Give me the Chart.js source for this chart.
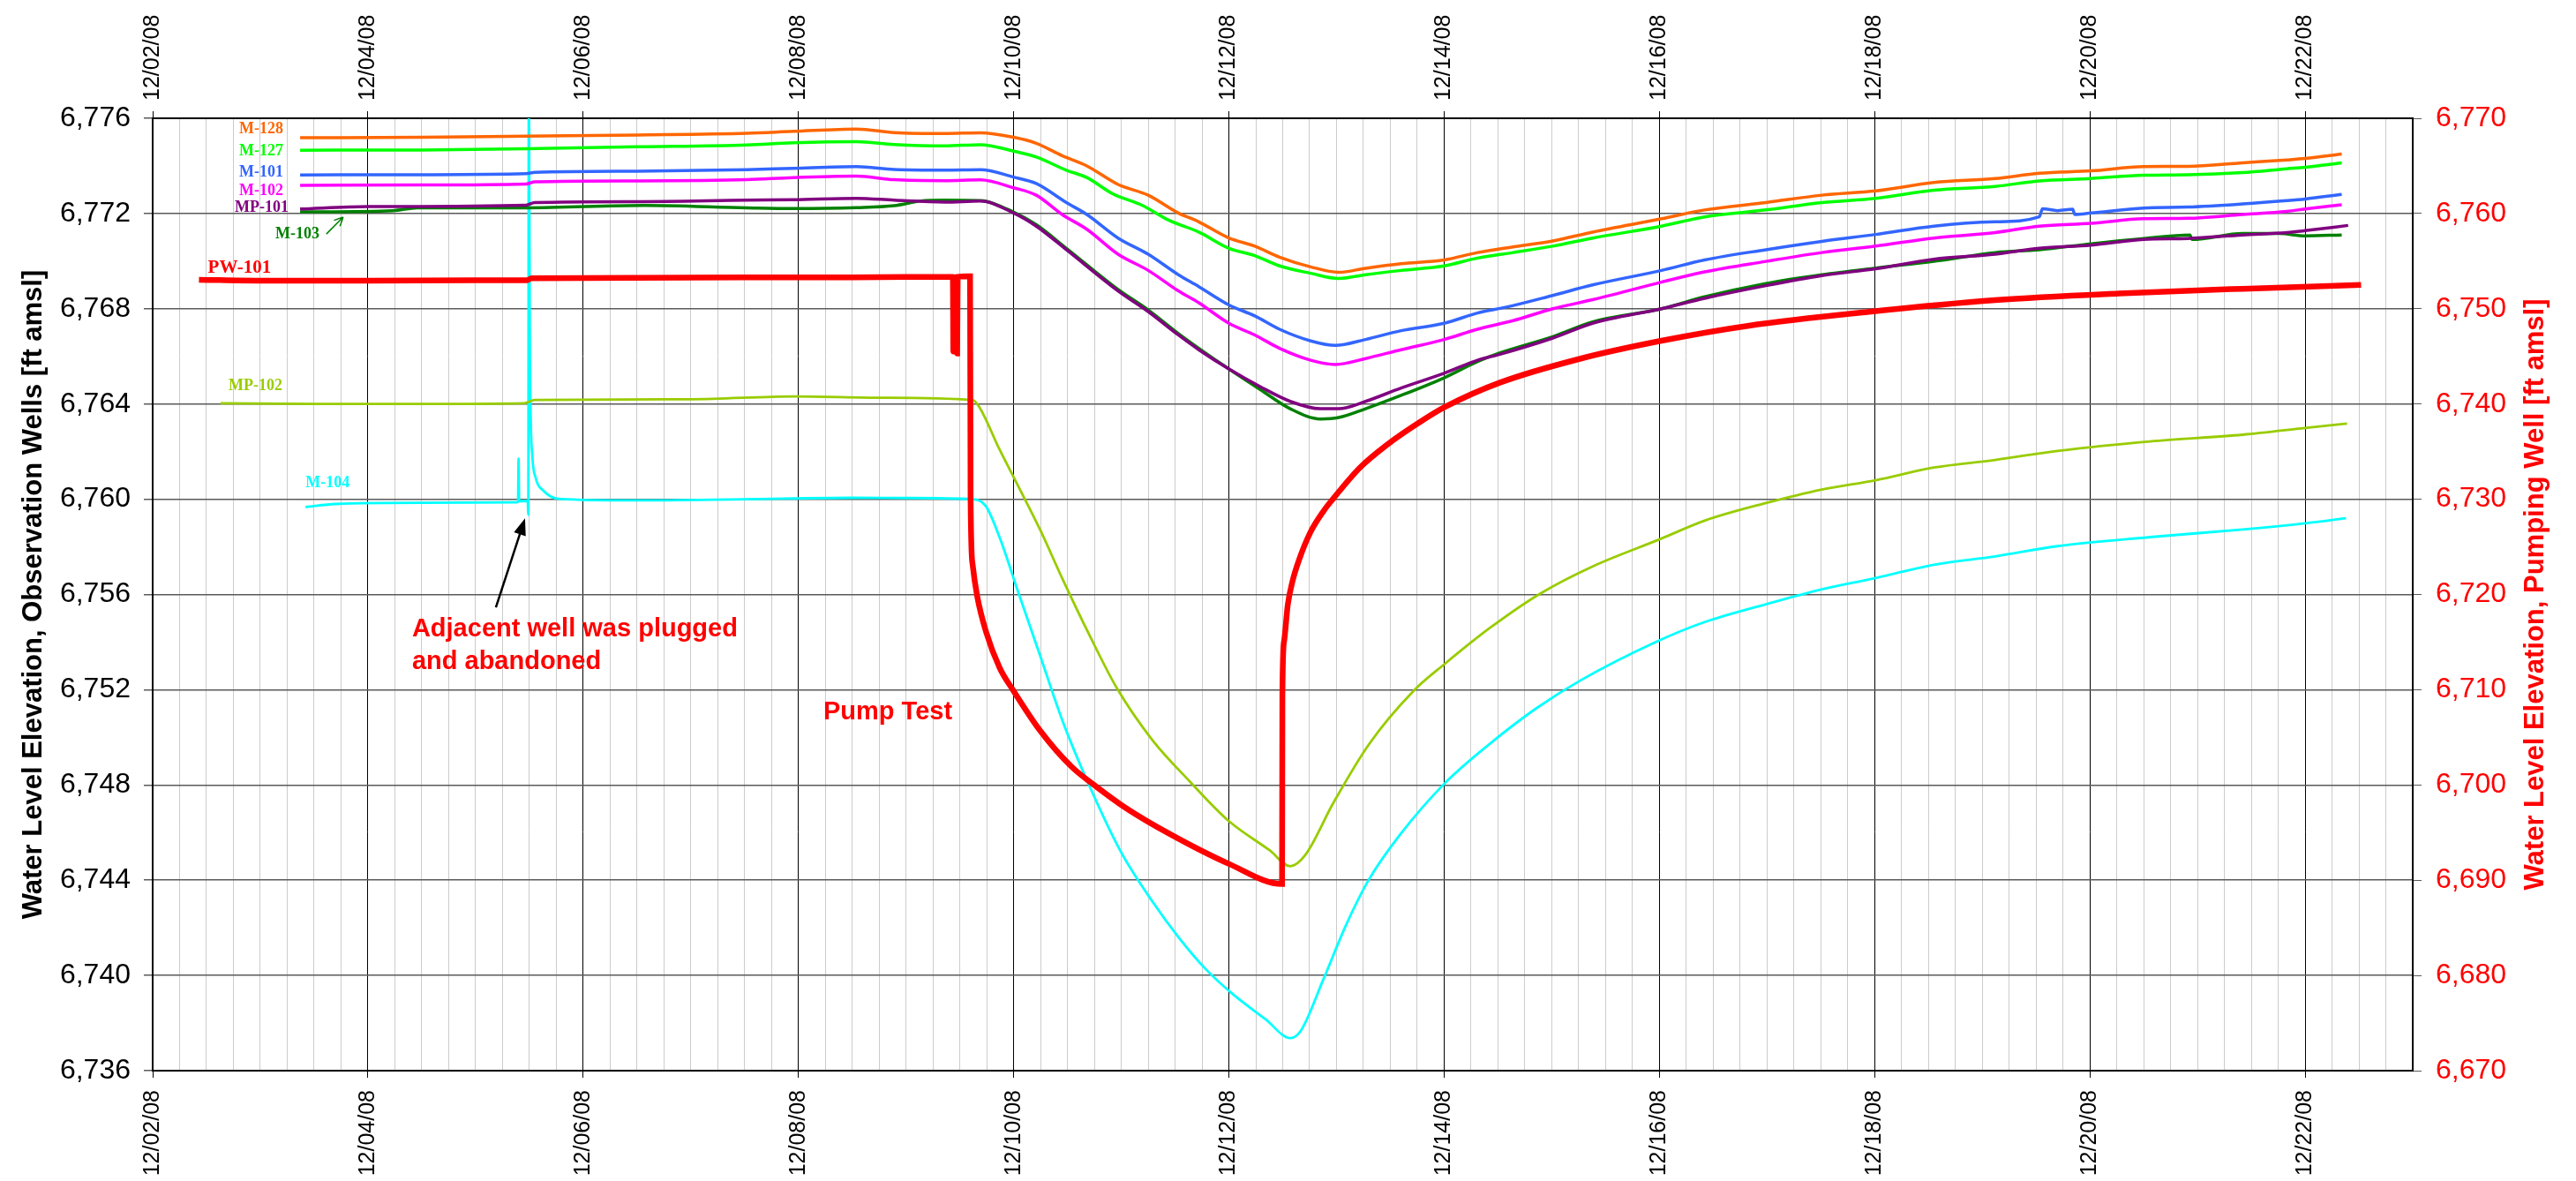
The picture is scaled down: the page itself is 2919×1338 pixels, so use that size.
<!DOCTYPE html>
<html>
<head>
<meta charset="utf-8">
<script src="https://cdn.jsdelivr.net/npm/chart.js@4.4.0/dist/chart.umd.min.js"></script>
<style>
  html, body { margin: 0; padding: 0; background: #fff; }
  #wrap { width: 2919px; height: 1338px; }
</style>
</head>
<body>
<div id="wrap"><canvas id="chart" width="2919" height="1338"></canvas></div>
<script>
// x = days after 12/02/08 00:00, y = water level [ft amsl]
const xMin = 0, xMax = 21;
const leftTicks = [6736, 6776, 4];   // min, max, step (observation wells)
const rightTicks = [6670, 6770, 10]; // min, max, step (pumping well)

const pw101T = [0.43, 1.0, 2.0, 3.0, 3.48, 3.52, 4.5, 5.5, 6.5, 7.0, 7.435, 7.44, 7.46, 7.475, 7.48, 7.57, 7.595, 7.6, 7.618, 7.66, 7.743, 7.87, 7.995, 8.246, 8.539, 8.748, 9.04, 9.459, 10.003, 10.494, 10.497, 10.513, 10.547, 10.589, 10.651, 10.756, 10.882, 10.965, 11.216, 11.467, 11.802, 12.01, 12.52, 13.27, 14.02, 14.82, 15.97, 17.12, 18.27, 19.42, 20.52];
const pw101V = [6753.05, 6752.95, 6752.95, 6753.0, 6753.0, 6753.2, 6753.25, 6753.3, 6753.3, 6753.35, 6753.35, 6745.5, 6746.0, 6745.3, 6753.35, 6753.4, 6753.4, 6730.0, 6723.2, 6719.9, 6716.1, 6712.3, 6709.95, 6705.7, 6701.9, 6700.0, 6697.6, 6694.8, 6691.7, 6689.6, 6709.45, 6715.1, 6718.9, 6721.3, 6723.6, 6726.5, 6728.8, 6730.0, 6733.3, 6735.7, 6738.3, 6739.7, 6742.25, 6744.77, 6746.64, 6748.2, 6749.7, 6750.9, 6751.6, 6752.1, 6752.5];

const m128T = [1.37, 2.5, 3.47, 4.5, 5.52, 5.95, 6.54, 6.89, 7.36, 7.69, 8.0, 8.21, 8.45, 8.68, 8.97, 9.25, 9.53, 9.72, 10.0, 10.24, 10.47, 10.76, 11.02, 11.27, 11.6, 12.0, 12.31, 12.64, 13.01, 13.38, 14.02, 14.42, 14.99, 15.51, 16.01, 16.55, 17.12, 17.53, 18.01, 18.5, 18.91, 19.42, 19.83, 20.0, 20.34];
const m128V = [6775.18, 6775.2, 6775.25, 6775.3, 6775.37, 6775.45, 6775.55, 6775.4, 6775.36, 6775.39, 6775.2, 6774.95, 6774.43, 6774.0, 6773.22, 6772.77, 6772.02, 6771.65, 6770.97, 6770.63, 6770.17, 6769.76, 6769.53, 6769.7, 6769.89, 6770.05, 6770.36, 6770.6, 6770.85, 6771.22, 6771.78, 6772.15, 6772.46, 6772.77, 6772.95, 6773.3, 6773.47, 6773.69, 6773.79, 6773.97, 6773.98, 6774.13, 6774.25, 6774.31, 6774.5];

const m127T = [1.37, 2.5, 3.47, 4.5, 5.52, 5.95, 6.54, 6.89, 7.36, 7.69, 8.0, 8.21, 8.49, 8.68, 8.92, 9.2, 9.44, 9.72, 10.0, 10.24, 10.47, 10.76, 11.02, 11.27, 11.6, 12.0, 12.31, 12.64, 13.01, 13.38, 14.02, 14.42, 14.99, 15.51, 16.01, 16.55, 17.12, 17.53, 18.01, 18.5, 18.91, 19.42, 19.83, 20.0, 20.34];
const m127V = [6774.66, 6774.67, 6774.72, 6774.8, 6774.88, 6774.97, 6775.02, 6774.9, 6774.84, 6774.89, 6774.62, 6774.37, 6773.82, 6773.51, 6772.83, 6772.33, 6771.72, 6771.22, 6770.54, 6770.23, 6769.8, 6769.49, 6769.27, 6769.43, 6769.61, 6769.8, 6770.13, 6770.36, 6770.63, 6770.97, 6771.47, 6771.86, 6772.15, 6772.46, 6772.64, 6772.98, 6773.14, 6773.37, 6773.47, 6773.61, 6773.63, 6773.72, 6773.88, 6773.94, 6774.13];

const m101T = [1.37, 2.5, 3.47, 3.55, 4.5, 5.52, 5.95, 6.54, 6.89, 7.36, 7.69, 8.0, 8.21, 8.49, 8.68, 8.97, 9.25, 9.53, 9.72, 10.0, 10.24, 10.47, 10.76, 10.99, 11.27, 11.6, 12.0, 12.31, 12.58, 13.01, 13.38, 14.02, 14.42, 14.99, 15.51, 16.01, 16.55, 17.12, 17.53, 17.56, 17.7, 17.84, 17.86, 18.01, 18.5, 18.91, 19.42, 19.83, 20.0, 20.34];
const m101V = [6773.62, 6773.63, 6773.67, 6773.73, 6773.78, 6773.84, 6773.9, 6773.97, 6773.85, 6773.82, 6773.84, 6773.53, 6773.26, 6772.46, 6771.96, 6770.97, 6770.29, 6769.43, 6768.93, 6768.16, 6767.7, 6767.14, 6766.65, 6766.46, 6766.71, 6767.08, 6767.39, 6767.82, 6768.07, 6768.56, 6769.0, 6769.61, 6770.05, 6770.48, 6770.83, 6771.12, 6771.47, 6771.65, 6771.86, 6772.2, 6772.12, 6772.18, 6771.96, 6772.02, 6772.23, 6772.27, 6772.4, 6772.54, 6772.61, 6772.8];

const m102T = [1.37, 2.5, 3.47, 3.55, 4.5, 5.52, 5.95, 6.54, 6.89, 7.36, 7.69, 8.0, 8.21, 8.45, 8.68, 8.97, 9.25, 9.53, 9.72, 10.0, 10.24, 10.47, 10.76, 10.99, 11.27, 11.6, 12.0, 12.31, 12.64, 13.01, 13.38, 14.02, 14.42, 14.99, 15.51, 16.01, 16.55, 17.12, 17.53, 18.01, 18.5, 18.91, 19.42, 19.83, 20.0, 20.34];
const m102V = [6773.18, 6773.2, 6773.24, 6773.33, 6773.37, 6773.42, 6773.51, 6773.57, 6773.42, 6773.38, 6773.41, 6773.08, 6772.77, 6771.96, 6771.34, 6770.29, 6769.61, 6768.75, 6768.25, 6767.39, 6766.9, 6766.34, 6765.84, 6765.66, 6765.91, 6766.28, 6766.71, 6767.14, 6767.5, 6768.0, 6768.38, 6769.12, 6769.55, 6769.99, 6770.36, 6770.63, 6770.97, 6771.2, 6771.47, 6771.59, 6771.78, 6771.8, 6771.96, 6772.09, 6772.19, 6772.37];

const mp101T = [1.37, 2.0, 3.47, 3.55, 4.5, 5.52, 5.95, 6.54, 6.89, 7.36, 7.69, 8.0, 8.21, 8.49, 8.97, 9.25, 9.53, 9.72, 10.0, 10.29, 10.57, 10.85, 11.02, 11.27, 11.6, 12.0, 12.31, 12.52, 13.01, 13.38, 14.02, 14.42, 14.99, 15.51, 16.01, 16.55, 17.12, 17.53, 18.01, 18.5, 18.91, 19.42, 19.83, 20.0, 20.4];
const mp101V = [6772.19, 6772.29, 6772.35, 6772.46, 6772.5, 6772.56, 6772.58, 6772.64, 6772.56, 6772.48, 6772.52, 6772.02, 6771.47, 6770.48, 6768.75, 6767.88, 6766.9, 6766.28, 6765.47, 6764.73, 6764.11, 6763.8, 6763.8, 6764.11, 6764.67, 6765.29, 6765.84, 6766.09, 6766.77, 6767.39, 6768.0, 6768.44, 6768.97, 6769.39, 6769.68, 6770.08, 6770.29, 6770.54, 6770.67, 6770.91, 6770.95, 6771.1, 6771.2, 6771.28, 6771.5];

const m103T = [1.37, 2.23, 2.46, 3.47, 4.57, 5.52, 5.95, 6.54, 6.89, 7.13, 7.36, 7.69, 8.0, 8.21, 8.49, 8.97, 9.25, 9.53, 9.72, 10.0, 10.29, 10.57, 10.85, 11.02, 11.27, 11.6, 12.0, 12.31, 12.52, 13.01, 13.38, 14.02, 14.42, 14.99, 15.51, 16.01, 16.55, 17.12, 17.53, 18.01, 18.5, 18.93, 18.95, 19.42, 19.76, 20.0, 20.34];
const m103V = [6772.07, 6772.12, 6772.24, 6772.24, 6772.34, 6772.24, 6772.21, 6772.25, 6772.33, 6772.52, 6772.56, 6772.54, 6772.06, 6771.53, 6770.54, 6768.81, 6767.95, 6766.96, 6766.34, 6765.47, 6764.61, 6763.8, 6763.37, 6763.43, 6763.8, 6764.36, 6765.1, 6765.78, 6766.15, 6766.83, 6767.45, 6768.0, 6768.5, 6769.06, 6769.43, 6769.71, 6769.99, 6770.36, 6770.48, 6770.73, 6770.95, 6771.1, 6770.91, 6771.16, 6771.16, 6771.06, 6771.1];

const mp102T = [0.63, 1.5, 2.5, 3.45, 3.55, 5.0, 5.96, 6.78, 7.62, 7.68, 7.87, 8.04, 8.25, 8.45, 8.71, 8.96, 9.29, 9.63, 10.0, 10.38, 10.57, 10.71, 10.97, 11.3, 11.72, 12.01, 12.43, 12.89, 13.38, 14.02, 14.42, 14.99, 15.51, 16.01, 16.55, 17.12, 17.7, 18.56, 19.42, 20.0, 20.39];
const mp102V = [6764.03, 6764.0, 6764.0, 6764.03, 6764.17, 6764.2, 6764.32, 6764.26, 6764.16, 6763.88, 6762.08, 6760.57, 6758.68, 6756.69, 6754.24, 6752.06, 6749.88, 6748.18, 6746.48, 6745.25, 6744.59, 6745.06, 6747.24, 6749.7, 6751.97, 6753.1, 6754.61, 6756.03, 6757.18, 6758.35, 6759.1, 6759.84, 6760.41, 6760.8, 6761.33, 6761.65, 6762.03, 6762.43, 6762.71, 6762.99, 6763.18];

const m104T = [1.42, 1.7, 2.5, 3.38, 3.395, 3.4, 3.405, 3.485, 3.49, 3.495, 3.505, 3.528, 3.556, 3.638, 3.775, 4.5, 5.5, 6.5, 7.0, 7.62, 7.74, 7.87, 8.04, 8.25, 8.45, 8.71, 9.0, 9.29, 9.54, 9.79, 10.04, 10.34, 10.57, 10.67, 10.88, 11.09, 11.3, 11.59, 12.01, 12.43, 12.85, 13.27, 13.96, 14.42, 14.99, 15.51, 16.01, 16.55, 17.12, 17.7, 18.56, 19.42, 20.0, 20.38];
const m104V = [6759.67, 6759.8, 6759.85, 6759.87, 6759.9, 6761.7, 6759.92, 6759.92, 6759.34, 6778.0, 6766.0, 6761.8, 6760.95, 6760.33, 6760.02, 6759.95, 6760.0, 6760.06, 6760.05, 6760.0, 6759.72, 6758.39, 6756.13, 6753.38, 6750.74, 6747.9, 6745.16, 6743.1, 6741.56, 6740.24, 6739.2, 6738.16, 6737.37, 6737.69, 6739.86, 6742.13, 6744.02, 6745.91, 6748.09, 6749.75, 6751.2, 6752.4, 6753.99, 6754.84, 6755.59, 6756.22, 6756.69, 6757.25, 6757.6, 6758.03, 6758.41, 6758.73, 6758.99, 6759.2];

function series(label, t, v, color, width, axis) {
  return {
    label: label,
    data: t.map((d, i) => ({ x: d, y: v[i] })),
    borderColor: color,
    backgroundColor: color,
    borderWidth: width,
    pointRadius: 0,
    fill: false,
    cubicInterpolationMode: 'monotone',
    yAxisID: axis
  };
}

// index 0 is drawn last (on top)
const datasets = [
  series('PW-101', pw101T, pw101V, '#ff0000', 6.5, 'y2'),
  series('M-128', m128T, m128V, '#ff6600', 3.5, 'y'),
  series('M-127', m127T, m127V, '#00ff00', 3.5, 'y'),
  series('M-101', m101T, m101V, '#3366ff', 3.5, 'y'),
  series('M-102', m102T, m102V, '#ff00ff', 3.5, 'y'),
  series('MP-101', mp101T, mp101V, '#800080', 3.5, 'y'),
  series('M-103', m103T, m103V, '#008000', 3.5, 'y'),
  series('MP-102', mp102T, mp102V, '#99cc00', 2.8, 'y'),
  series('M-104', m104T, m104V, '#00ffff', 2.8, 'y')
];

// annotation anchors, in axis units (day, left-axis value)
const wellLabels = [
  { text: 'M-128', d: 1.214, v: 6775.55, color: '#ff6600', size: 18 },
  { text: 'M-127', d: 1.214, v: 6774.6, color: '#00ff00', size: 18 },
  { text: 'M-101', d: 1.214, v: 6773.73, color: '#3366ff', size: 18 },
  { text: 'M-102', d: 1.214, v: 6772.93, color: '#ff00ff', size: 18 },
  { text: 'MP-101', d: 1.262, v: 6772.23, color: '#800080', size: 18 },
  { text: 'M-103', d: 1.55, v: 6771.12, color: '#008000', size: 18 },
  { text: 'PW-101', d: 1.10, v: 6769.72, color: '#ff0000', size: 21 },
  { text: 'MP-102', d: 1.205, v: 6764.76, color: '#99cc00', size: 18 },
  { text: 'M-104', d: 1.83, v: 6760.69, color: '#00ffff', size: 18 }
];

function dayLabel(v) {
  if (Math.abs(v / 2 - Math.round(v / 2)) > 1e-6) return '';
  return '12/' + String(2 + Math.round(v)).padStart(2, '0') + '/08';
}
const isMajor = v => Math.abs(v / 2 - Math.round(v / 2)) < 1e-6;

const notesPlugin = {
  id: 'notes',
  afterDatasetsDraw(chart) {
    const { ctx, chartArea } = chart;
    const xs = chart.scales.x, ys = chart.scales.y;
    const px = d => xs.getPixelForValue(d);
    const py = v => ys.getPixelForValue(v);
    ctx.save();

    // well names
    ctx.textAlign = 'right';
    ctx.textBaseline = 'middle';
    wellLabels.forEach(l => {
      ctx.font = 'bold ' + l.size + 'px "Liberation Serif", "Times New Roman", serif';
      ctx.fillStyle = l.color;
      ctx.fillText(l.text, px(l.d), py(l.v));
    });

    // small open arrow next to M-103
    const ax0 = px(1.614), ay0 = py(6771.14), ax1 = px(1.77), ay1 = py(6771.85);
    ctx.strokeStyle = '#008000';
    ctx.lineWidth = 1.5;
    ctx.beginPath();
    ctx.moveTo(ax0, ay0); ctx.lineTo(ax1, ay1);
    const a = Math.atan2(ay1 - ay0, ax1 - ax0);
    ctx.moveTo(ax1, ay1); ctx.lineTo(ax1 - 11 * Math.cos(a - 0.45), ay1 - 11 * Math.sin(a - 0.45));
    ctx.moveTo(ax1, ay1); ctx.lineTo(ax1 - 11 * Math.cos(a + 0.45), ay1 - 11 * Math.sin(a + 0.45));
    ctx.stroke();

    // black arrow to the plugged-well spike
    const bx0 = px(3.189), by0 = py(6755.46), bx1 = px(3.46), by1 = py(6759.2);
    const b = Math.atan2(by1 - by0, bx1 - bx0);
    ctx.strokeStyle = '#000';
    ctx.fillStyle = '#000';
    ctx.lineWidth = 2.5;
    ctx.beginPath();
    ctx.moveTo(bx0, by0);
    ctx.lineTo(bx1 - 14 * Math.cos(b), by1 - 14 * Math.sin(b));
    ctx.stroke();
    ctx.beginPath();
    ctx.moveTo(bx1, by1);
    ctx.lineTo(bx1 - 19 * Math.cos(b) + 7 * Math.sin(b), by1 - 19 * Math.sin(b) - 7 * Math.cos(b));
    ctx.lineTo(bx1 - 19 * Math.cos(b) - 7 * Math.sin(b), by1 - 19 * Math.sin(b) + 7 * Math.cos(b));
    ctx.closePath();
    ctx.fill();

    // red notes
    ctx.fillStyle = '#ff0000';
    ctx.textAlign = 'left';
    ctx.font = 'bold 29px "Liberation Sans", Arial, sans-serif';
    ctx.fillText('Adjacent well was plugged', px(2.41), py(6754.53));
    ctx.fillText('and abandoned', px(2.41), py(6753.16));
    ctx.fillText('Pump Test', px(6.232), py(6751.05));

    // right axis title (reads bottom to top like the left one)
    ctx.save();
    ctx.translate(chart.width - 46, (chartArea.top + chartArea.bottom) / 2);
    ctx.rotate(-Math.PI / 2);
    ctx.textAlign = 'center';
    ctx.font = 'bold 31px "Liberation Sans", Arial, sans-serif';
    ctx.fillText('Water Level Elevation, Pumping Well [ft amsl]', 0, 0);
    ctx.restore();

    ctx.restore();
  }
};

const tickFont = { family: '"Liberation Sans", Arial, sans-serif', size: 25 };
const xTicks = {
  stepSize: 0.25,
  autoSkip: false,
  minRotation: 90,
  maxRotation: 90,
  padding: 14,
  color: '#000',
  font: tickFont,
  callback: v => dayLabel(v)
};

new Chart(document.getElementById('chart'), {
  type: 'line',
  data: { datasets: datasets },
  options: {
    responsive: false,
    devicePixelRatio: 1,
    animation: false,
    layout: { padding: 0 },
    plugins: { legend: { display: false }, tooltip: { enabled: false } },
    scales: {
      x: {
        type: 'linear',
        position: 'bottom',
        min: xMin,
        max: xMax,
        ticks: xTicks,
        grid: {
          color: c => isMajor(c.tick.value) ? '#000' : '#cccccc',
          lineWidth: 1,
          tickLength: 8,
          tickColor: c => isMajor(c.tick.value) ? '#000' : 'rgba(0,0,0,0)'
        },
        border: { color: '#000', width: 2 },
        afterFit: s => { s.height = 125; }
      },
      x2: {
        type: 'linear',
        position: 'top',
        min: xMin,
        max: xMax,
        // rotated labels on a top axis sit one line-height to the left; shift back
        ticks: Object.assign({}, xTicks, { labelOffset: 30, padding: 12 }),
        grid: {
          drawOnChartArea: false,
          tickLength: 8,
          tickColor: c => isMajor(c.tick.value) ? '#000' : 'rgba(0,0,0,0)'
        },
        border: { color: '#000', width: 2 },
        afterFit: s => { s.height = 134; }
      },
      y: {
        type: 'linear',
        position: 'left',
        min: leftTicks[0],
        max: leftTicks[1],
        ticks: {
          stepSize: leftTicks[2],
          padding: 15,
          color: '#000',
          font: { family: '"Liberation Sans", Arial, sans-serif', size: 32 },
          callback: v => v.toLocaleString('en-US')
        },
        grid: { color: '#5a5a5a', lineWidth: 1.5, tickLength: 10, tickColor: '#5a5a5a' },
        border: { color: '#000', width: 2 },
        title: {
          display: true,
          text: 'Water Level Elevation, Observation Wells [ft amsl]',
          color: '#000',
          font: { family: '"Liberation Sans", Arial, sans-serif', size: 31, weight: 'bold' },
          padding: { top: 20, bottom: 0 }
        },
        afterFit: s => { s.width = 173; }
      },
      y2: {
        type: 'linear',
        position: 'right',
        min: rightTicks[0],
        max: rightTicks[1],
        ticks: {
          stepSize: rightTicks[2],
          padding: 16,
          color: '#ff0000',
          font: { family: '"Liberation Sans", Arial, sans-serif', size: 32 },
          callback: v => v.toLocaleString('en-US')
        },
        grid: { drawOnChartArea: false, tickLength: 10, tickColor: '#5a5a5a' },
        border: { color: '#000', width: 2 },
        afterFit: s => { s.width = 185; }
      }
    }
  },
  plugins: [notesPlugin]
});
</script>
</body>
</html>
